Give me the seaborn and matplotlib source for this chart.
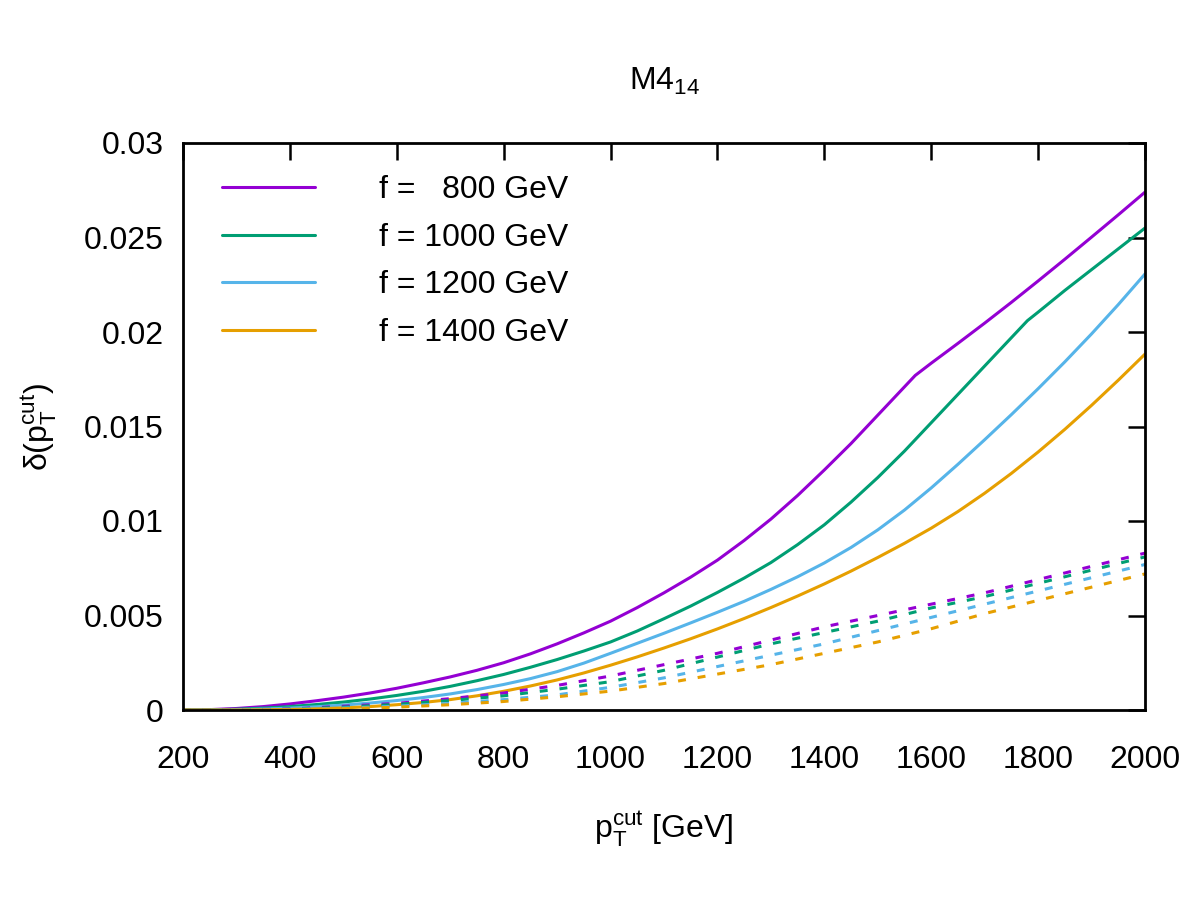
import numpy as np
import pandas as pd
import matplotlib
matplotlib.use("Agg")
import matplotlib.pyplot as plt
import seaborn as sns

# ---------------- data ----------------
# common x grid (GeV), 50 GeV steps
x_fine = [200, 250, 300, 350, 400, 450, 500, 550, 600, 650, 700, 750, 800, 850,
          900, 950, 1000, 1050, 1100, 1150, 1200, 1250, 1300, 1350, 1400, 1450,
          1500, 1550, 1600, 1650, 1700, 1750, 1800, 1850, 1900, 1950, 2000]

# f = 800 GeV (kink near 1570)
x_f800 = [200, 250, 300, 350, 400, 450, 500, 550, 600, 650, 700, 750, 800, 850,
          900, 950, 1000, 1050, 1100, 1150, 1200, 1250, 1300, 1350, 1400, 1450,
          1500, 1550, 1570, 1600, 1650, 1700, 1750, 1800, 1850, 1900, 1950, 2000]
y_f800 = [0.0, 0.00002, 0.00008, 0.00018, 0.00032, 0.00049, 0.00068, 0.0009,
          0.00115, 0.00144, 0.00175, 0.0021, 0.0025, 0.00297, 0.0035, 0.00408,
          0.0047, 0.00542, 0.0062, 0.00703, 0.00793, 0.00897, 0.0101, 0.01135,
          0.0127, 0.0141, 0.0156, 0.0171, 0.0177, 0.01835, 0.0194, 0.02047,
          0.02157, 0.0227, 0.02385, 0.02502, 0.0262, 0.0274]

# f = 1000 GeV (kink near 1780)
x_f1000 = [200, 250, 300, 350, 400, 450, 500, 550, 600, 650, 700, 750, 800, 850,
           900, 950, 1000, 1050, 1100, 1150, 1200, 1250, 1300, 1350, 1400, 1450,
           1500, 1550, 1600, 1650, 1700, 1750, 1780, 1800, 1850, 1900, 1950, 2000]
y_f1000 = [0.0, 0.00001, 0.00004, 0.0001, 0.00018, 0.00029, 0.00042, 0.00058,
           0.00077, 0.00099, 0.00125, 0.00155, 0.00188, 0.00226, 0.00267, 0.00312,
           0.0036, 0.00418, 0.00483, 0.0055, 0.00622, 0.00698, 0.0078, 0.00875,
           0.0098, 0.0110, 0.0123, 0.0137, 0.0152, 0.0167, 0.0182, 0.0197,
           0.0206, 0.02105, 0.0222, 0.0233, 0.0244, 0.0255]

y_f1200 = [0.0, 0.00001, 0.00002, 0.00005, 0.0001, 0.00017, 0.00026, 0.00037,
           0.0005, 0.00066, 0.00085, 0.00108, 0.00135, 0.00166, 0.00203, 0.00248,
           0.003, 0.00353, 0.00406, 0.00461, 0.00517, 0.00575, 0.00638, 0.00705,
           0.00778, 0.0086, 0.00953, 0.01058, 0.01175, 0.013, 0.0143, 0.01563,
           0.017, 0.01842, 0.0199, 0.02145, 0.02307]

y_f1400 = [0.0, 0.0, 0.0, 0.00001, 0.00003, 0.00006, 0.00011, 0.00018,
           0.00028, 0.0004, 0.00055, 0.00075, 0.00099, 0.00127, 0.00159, 0.00196,
           0.00237, 0.00281, 0.00328, 0.00377, 0.00429, 0.00484, 0.00542, 0.00603,
           0.00667, 0.00735, 0.00807, 0.00882, 0.00962, 0.0105, 0.01147, 0.01252,
           0.01365, 0.01485, 0.01612, 0.01745, 0.01883]

# dashed curves, 100 GeV steps
x_dash = [200, 300, 400, 500, 600, 700, 800, 900, 1000, 1100, 1200, 1300,
          1400, 1500, 1600, 1700, 1800, 1900, 2000]
yd_f800 = [0.0, 0.00001, 0.00005, 0.0002, 0.00035, 0.0006, 0.0009, 0.0013,
           0.0018, 0.0024, 0.0030, 0.0037, 0.0044, 0.0050, 0.0056, 0.0062,
           0.0069, 0.0076, 0.0083]
yd_f1000 = [0.0, 0.0, 0.00004, 0.00015, 0.0003, 0.0005, 0.00075, 0.0011,
            0.0015, 0.0021, 0.0028, 0.0035, 0.0041, 0.0047, 0.0054, 0.0060,
            0.0067, 0.0074, 0.0081]
yd_f1200 = [0.0, 0.0, 0.00003, 0.0001, 0.0002, 0.00035, 0.00055, 0.0008,
            0.0012, 0.0017, 0.0023, 0.0029, 0.0035, 0.0042, 0.0049, 0.0056,
            0.0063, 0.0070, 0.0077]
yd_f1400 = [0.0, 0.0, 0.00002, 0.00007, 0.00015, 0.00028, 0.00045, 0.0007,
            0.0010, 0.0014, 0.0019, 0.0024, 0.0030, 0.0036, 0.0043, 0.0051,
            0.0058, 0.0065, 0.0072]

labels = ["f =   800 GeV", "f = 1000 GeV", "f = 1200 GeV", "f = 1400 GeV"]
colors = ["#9400d3", "#009e73", "#56b4e9", "#e69f00"]

x_ticks = [200, 400, 600, 800, 1000, 1200, 1400, 1600, 1800, 2000]
y_ticks = [0, 0.005, 0.01, 0.015, 0.02, 0.025, 0.03]
y_ticklabels = ["0", "0.005", "0.01", "0.015", "0.02", "0.025", "0.03"]

# ---------------- style ----------------
sns.set_style("white")
plt.rcParams["font.family"] = ["Liberation Sans", "DejaVu Sans"]
plt.rcParams["mathtext.default"] = "regular"
plt.rcParams["text.color"] = "black"
plt.rcParams["axes.labelcolor"] = "black"

FS = 23
fig = plt.figure(figsize=(12, 9), dpi=100)
ax = fig.add_axes([183 / 1200, 1 - 710 / 900, (1145 - 183) / 1200, (710 - 143) / 900])

solid = [(x_f800, y_f800), (x_f1000, y_f1000), (x_fine, y_f1200), (x_fine, y_f1400)]
dashed = [yd_f800, yd_f1000, yd_f1200, yd_f1400]

lw = 2.2
for (xs, ys), lab, c in zip(solid, labels, colors):
    sns.lineplot(x=xs, y=ys, ax=ax, color=c, lw=lw, label=lab, sort=False)
for ys, c in zip(dashed, colors):
    sns.lineplot(x=x_dash, y=ys, ax=ax, color=c, lw=lw, legend=False, sort=False,
                 linestyle=(0, (2.6, 3.9)))

ax.set_xlim(200, 2000)
ax.set_ylim(0, 0.03)
ax.set_xticks(x_ticks)
ax.set_xticklabels([str(t) for t in x_ticks])
ax.set_yticks(y_ticks)
ax.set_yticklabels(y_ticklabels)

for s in ax.spines.values():
    s.set_linewidth(2.0)
    s.set_color("black")
ax.tick_params(direction="in", length=12, width=1.8, top=True, right=True,
               labelsize=FS, colors="black")
ax.tick_params(axis="y", pad=14)
ax.tick_params(axis="x", pad=25)

ax.set_xlabel(r"$p_T^{cut}$ [GeV]", fontsize=FS, labelpad=25, color="black")
ax.set_ylabel(r"δ($p_T^{cut}$)", fontsize=FS, labelpad=18, color="black")
ax.set_title(r"M4$_{14}$", fontsize=FS, pad=38, color="black")

leg = ax.legend(loc="upper left", bbox_to_anchor=(39 / 962, 1 - 32 / 567),
                frameon=False, fontsize=FS, handlelength=2.9, handletextpad=2.0,
                labelspacing=0.555, borderpad=0, borderaxespad=0)
for h in leg.get_lines():
    h.set_linewidth(lw)
for t in leg.get_texts():
    t.set_color("black")

fig.savefig("out.png", dpi=100)
